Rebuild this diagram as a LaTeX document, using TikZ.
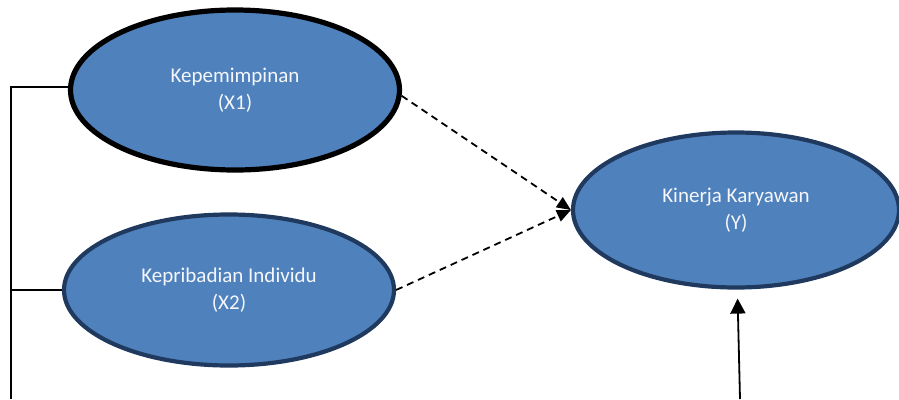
\documentclass[tikz,border=0pt]{standalone}
\usepackage{fontspec}
\setmainfont{Carlito}
\usepackage{tikz}
\usetikzlibrary{arrows.meta, shapes.geometric, positioning}
\definecolor{accent}{HTML}{4F81BD}
\definecolor{navy}{HTML}{1F3A5E}
\tikzset{
    construct/.style={ellipse, draw=navy, line width=4.2pt, fill=accent, text=white!94!accent, align=center, font=\fontsize{21}{27}\selectfont, inner sep=0pt},
    link/.style={line width=1.5pt, draw=black},
    effect/.style={line width=1.8pt, dash pattern=on 7pt off 5pt, -{Triangle[length=14pt, width=12pt]}},
    support/.style={line width=1.8pt, -{Triangle[length=15pt, width=15pt]}}
}

\begin{document}
\begin{tikzpicture}[x=1pt, y=-1pt]
    \useasboundingbox (0,0) rectangle (899,399);

    % Variables
    \node[construct, draw=black, line width=5.2pt, minimum width=329pt, minimum height=160pt] (kep) at (235,90) {Kepemimpinan\\(X1)};
    \node[construct, minimum width=330pt, minimum height=151pt] (krb) at (229,290) {Kepribadian Individu\\(X2)};
    \node[construct, minimum width=326pt, minimum height=155pt] (kin) at (736,210) {Kinerja Karyawan\\(Y)};

    % Correlation bracket on the left
    \coordinate (bus) at (11,399);
    \draw[link] (kep.179) -| (bus);
    \draw[link] (krb.west) -- (krb.west -| bus);

    % Hypotheses
    \draw[effect] (kep.-2) -- (kin.west);
    \draw[effect] (krb.east) -- (kin.west);

    % Outside influence
    \coordinate (ext) at (740,399);
    \draw[support, shorten >=9pt] (ext) -- (kin.271);
\end{tikzpicture}
\end{document}
